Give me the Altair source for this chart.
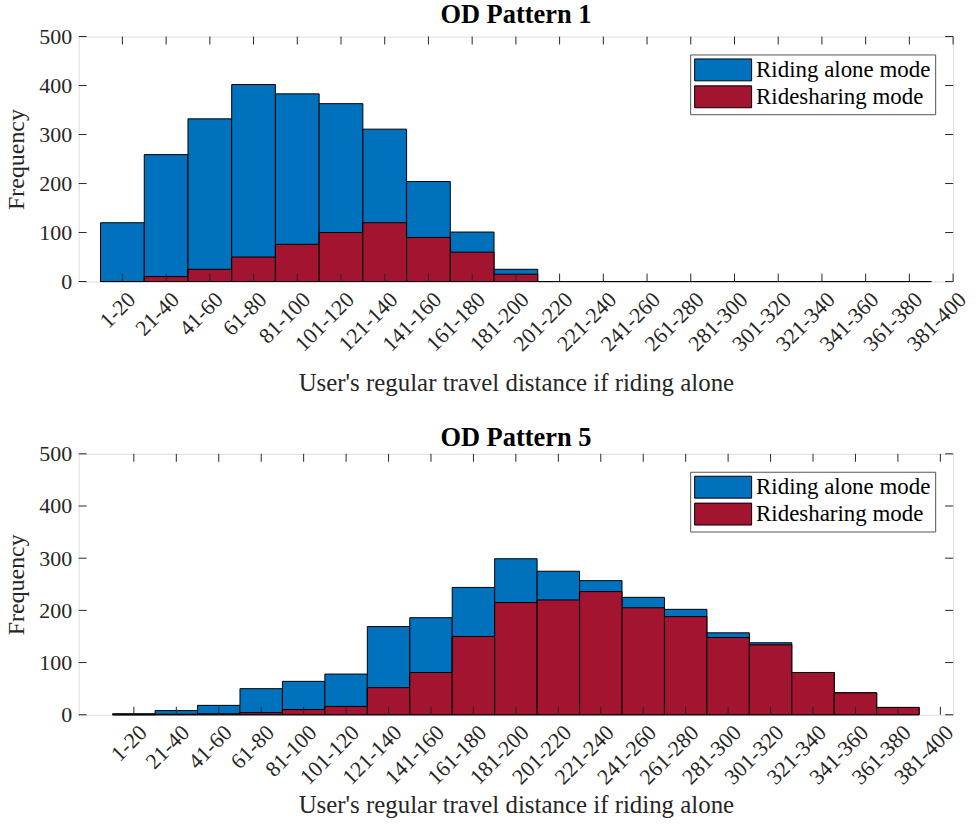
import altair as alt
import pandas as pd

FONT = "Liberation Serif"
BLUE = "#0072BD"
RED = "#A2142F"
FRAME = "#555555"
TXT = "#262626"

# ---- data ----
bin_labels = ["1-20", "21-40", "41-60", "61-80", "81-100", "101-120", "121-140",
              "141-160", "161-180", "181-200", "201-220", "221-240", "241-260",
              "261-280", "281-300", "301-320", "321-340", "341-360", "361-380",
              "381-400"]
modes = ["Riding alone mode", "Ridesharing mode"]

p1_alone = [120, 259, 332, 402, 383, 363, 311, 204, 101, 25, 0, 0, 0, 0, 0, 0, 0, 0, 0]
p1_share = [0, 10, 25, 50, 76, 100, 120, 90, 60, 15, 0, 0, 0, 0, 0, 0, 0, 0, 0]

p5_alone = [2, 8, 18, 50, 64, 78, 169, 186, 244, 299, 275, 257, 225, 202, 157, 138, 81, 42, 14]
p5_share = [0, 1, 2, 4, 10, 16, 52, 81, 150, 215, 220, 236, 205, 188, 148, 134, 81, 42, 14]

y_ticks = [0, 100, 200, 300, 400, 500]

label_expr = "[" + ",".join("'%s'" % s for s in bin_labels) + "][datum.value]"
tick_idx = list(range(len(bin_labels)))

W = 878
TICK = 8


def panel(title, alone, share, xdom, height, title_pad, head_offset):
    n = len(alone)
    bars = pd.DataFrame({
        "idx": list(range(n)) * 2,
        "count": alone + share,
        "mode": [modes[0]] * n + [modes[1]] * n,
        "order": [0] * n + [1] * n,
    })
    xscale = alt.Scale(domain=xdom, nice=False, zero=False)
    yscale = alt.Scale(domain=[0, 500], nice=False)

    xaxis = alt.Axis(values=tick_idx, labelExpr=label_expr, labelAngle=-45,
                     labelAlign="right", labelBaseline="middle", labelPadding=14,
                     labelOffset=9, labelFont=FONT, labelFontSize=22,
                     labelColor=TXT, ticks=False, grid=False, domain=False,
                     title="User's regular travel distance if riding alone",
                     titleFont=FONT, titleFontSize=25, titleFontWeight="normal",
                     titleColor=TXT, titlePadding=title_pad, labelOverlap=False)
    yaxis = alt.Axis(values=y_ticks, labelFont=FONT, labelFontSize=22,
                     labelColor=TXT, labelPadding=7, ticks=False, grid=False,
                     domain=False, title="Frequency", titleFont=FONT,
                     titleFontSize=24, titleFontWeight="normal", titleColor=TXT,
                     titlePadding=10)

    bar_layer = alt.Chart(bars).transform_calculate(
        x0="datum.idx - 0.5", x1="datum.idx + 0.5"
    ).mark_rect(stroke="black", strokeWidth=1).encode(
        x=alt.X("x0:Q", scale=xscale, axis=xaxis),
        x2="x1:Q",
        y=alt.Y("count:Q", scale=yscale, axis=yaxis),
        y2=alt.datum(0),
        color=alt.Color("mode:N",
                        scale=alt.Scale(domain=modes, range=[BLUE, RED]),
                        legend=alt.Legend(
                            title=None, orient="top-right", offset=18,
                            symbolType="M-2.6,-1H2.6V1H-2.6Z", symbolSize=484,
                            symbolOffset=17.6,
                            symbolStrokeColor="black", symbolStrokeWidth=1,
                            symbolOpacity=1, fillColor="white",
                            strokeColor=FRAME, padding=4,
                            labelFont=FONT, labelFontSize=23,
                            labelColor="black", rowPadding=0, labelOffset=21.6,
                            labelLimit=400)),
        order=alt.Order("order:Q"),
    )

    xt = pd.DataFrame({"t": tick_idx})
    yt = pd.DataFrame({"v": y_ticks})
    xtick_bottom = alt.Chart(xt).mark_rule(color=TXT, strokeWidth=1).encode(
        x=alt.X("t:Q", scale=xscale), y=alt.value(height), y2=alt.value(height - TICK))
    xtick_top = alt.Chart(xt).mark_rule(color=TXT, strokeWidth=1).encode(
        x=alt.X("t:Q", scale=xscale), y=alt.value(0), y2=alt.value(TICK))
    ytick_left = alt.Chart(yt).mark_rule(color=TXT, strokeWidth=1).encode(
        y=alt.Y("v:Q", scale=yscale), x=alt.value(0), x2=alt.value(TICK))
    ytick_right = alt.Chart(yt).mark_rule(color=TXT, strokeWidth=1).encode(
        y=alt.Y("v:Q", scale=yscale), x=alt.value(W), x2=alt.value(W - TICK))

    return alt.layer(bar_layer, xtick_bottom, xtick_top, ytick_left, ytick_right).properties(
        width=W, height=height,
        title=alt.TitleParams(title, font=FONT, fontSize=26.5, fontWeight="bold",
                              color="black", offset=head_offset, anchor="middle"),
    )


top = panel("OD Pattern 1", p1_alone, p1_share, [-1, 19], 246, 16, -3)
bottom = panel("OD Pattern 5", p5_alone, p5_share, [-1.3, 19.3], 262, 5, -9)

chart = alt.vconcat(top, bottom, spacing=28).resolve_scale(
    color="independent", x="independent", y="independent"
).resolve_legend(color="independent").properties(
    padding={"left": 4, "top": 0, "right": 5, "bottom": 2}
).configure_view(stroke=FRAME, strokeWidth=1).configure(background="white")

chart.save("out.html", embed_options={"renderer": "svg", "actions": False})
